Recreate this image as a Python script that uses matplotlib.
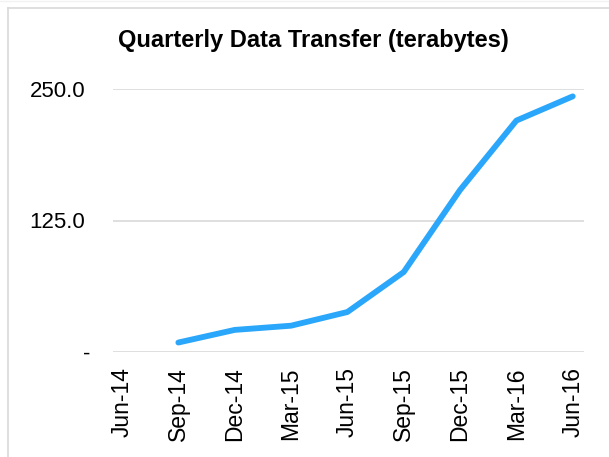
import numpy as np
import matplotlib
matplotlib.use('Agg')
import matplotlib.pyplot as plt
from matplotlib.lines import Line2D
from matplotlib.transforms import ScaledTranslation

plt.rcParams['font.family'] = ['Liberation Sans', 'DejaVu Sans']

quarters = ['Jun-14', 'Sep-14', 'Dec-14', 'Mar-15', 'Jun-15',
            'Sep-15', 'Dec-15', 'Mar-16', 'Jun-16']
transfer_tb = [np.nan, 9, 21, 25, 38, 76, 154, 220, 243]
ytick_vals = [0, 125, 250]
ytick_labels = ['-', '125.0', '250.0']

fig = plt.figure(figsize=(6.09, 4.57), dpi=100)
ax = fig.add_axes([113/609, 1 - 352/457, 471/609, 263/457])

x = np.arange(len(quarters))
ax.plot(x, transfer_tb, color='#2aa6fb', lw=4.2, solid_capstyle='round',
        solid_joinstyle='round', zorder=3)

ax.set_xlim(-0.16, len(quarters) - 1 + 0.2)
ax.set_ylim(0, 250)
ax.set_xticks(x)
ax.set_xticklabels(quarters, rotation=90, fontsize=16.5)
ax.set_yticks(ytick_vals)
ax.set_yticklabels(ytick_labels, fontsize=16)
ax.tick_params(axis='both', length=0)
ax.tick_params(axis='x', pad=11)
ax.tick_params(axis='y', pad=20)
ax.grid(axis='y', color='#d9d9d9', lw=1.2, zorder=1)
for s in ax.spines.values():
    s.set_visible(False)

# nudge the dash label like the accounting format does
lbl0 = ax.get_yticklabels()[0]
lbl0.set_transform(lbl0.get_transform() + ScaledTranslation(5/100, 0, fig.dpi_scale_trans))

fig.text(313/609, 1 - 40/457, 'Quarterly Data Transfer (terabytes)',
         ha='center', va='center', fontsize=17, fontweight='bold')

# chart area border (left and top)
fig.add_artist(Line2D([8/609, 8/609], [0, 1 - 8/457], transform=fig.transFigure,
                      color='#d9d9d9', lw=1.2))
fig.add_artist(Line2D([8/609, 1], [1 - 8/457, 1 - 8/457], transform=fig.transFigure,
                      color='#d9d9d9', lw=1.2))
fig.add_artist(Line2D([0, 1], [1 - 1/457, 1 - 1/457], transform=fig.transFigure,
                      color='#f2f2f2', lw=1.0))

fig.savefig('out.png', dpi=100)
